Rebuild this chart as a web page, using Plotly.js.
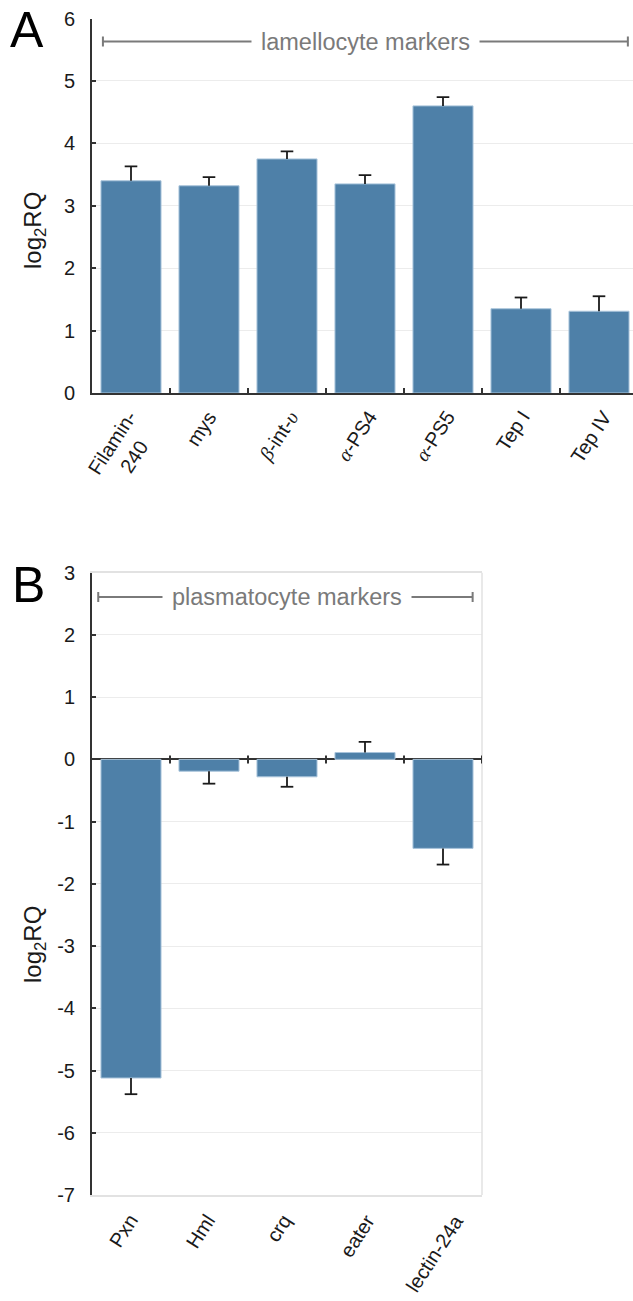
<!DOCTYPE html>
<html>
<head>
<meta charset="utf-8">
<script src="https://cdn.plot.ly/plotly-3.0.1.min.js"></script>
<style>html,body{margin:0;padding:0;background:#fff;}</style>
</head>
<body>
<div id="chart" style="width:633px;height:1301px;"></div>
<script>
// ---- Data ----
const categoriesA = ['Filamin-240', 'mys', 'β-int-υ', 'α-PS4', 'α-PS5', 'Tep I', 'Tep IV'];
const tickLabelsA = ['Filamin-<br>240', 'mys', 'β-int-υ', 'α-PS4', 'α-PS5', 'Tep I', 'Tep IV'];
const valuesA = [3.40, 3.32, 3.75, 3.35, 4.60, 1.35, 1.31];
const errorsA = [0.23, 0.14, 0.12, 0.14, 0.14, 0.18, 0.24];
const yTickValsA = [0, 1, 2, 3, 4, 5, 6];
const yTickTextA = ['0', '1', '2', '3', '4', '5', '6'];

const categoriesB = ['Pxn', 'Hml', 'crq', 'eater', 'lectin-24a'];
const tickLabelsB = ['Pxn', 'Hml', 'crq', 'eater', 'lectin-24a'];
const valuesB = [-5.12, -0.19, -0.28, 0.11, -1.43];
const errorsB = [0.26, 0.20, 0.16, 0.17, 0.26];
const yTickValsB = [-7, -6, -5, -4, -3, -2, -1, 0, 1, 2, 3];
const yTickTextB = ['-7', '-6', '-5', '-4', '-3', '-2', '-1', '0', '1', '2', '3'];

const bracketTextA = 'lamellocyte markers';
const bracketTextB = 'plasmatocyte markers';
const yTitle = 'log<sub>2</sub>RQ';

// ---- Styling helpers ----
const BAR = '#4e80a8';
const ERR = '#1a1a1a';
const FONT = '"Liberation Sans", Arial, sans-serif';
const greek = s => s.replace(/([α-ωΑ-Ω])/g, '<span style="font-family:\'Liberation Serif\',serif;font-style:italic">$1</span>');

const W = 633, H = 1301;
const px = v => v / W;
const py = v => 1 - v / H;

function stems(vals, e) {
  return {
    type: 'data', symmetric: false,
    array: vals.map((v, i) => v >= 0 ? e[i] : 0),
    arrayminus: vals.map((v, i) => v < 0 ? e[i] : 0),
    color: ERR, thickness: 1.8, width: 0
  };
}
function caps(cats, vals, e, xa, ya) {
  return {
    type: 'scatter', mode: 'markers', x: cats, y: vals.map((v, i) => v >= 0 ? v + e[i] : v - e[i]),
    xaxis: xa, yaxis: ya, hoverinfo: 'none',
    marker: {symbol: 'line-ew', size: 9, color: ERR, line: {color: ERR, width: 1.8}}
  };
}

const traceA = {
  type: 'bar', x: categoriesA, y: valuesA, xaxis: 'x', yaxis: 'y',
  marker: {color: BAR, line: {color: '#a9c4db', width: 1}},
  error_y: stems(valuesA, errorsA), hoverinfo: 'none'
};
const traceB = {
  type: 'bar', x: categoriesB, y: valuesB, xaxis: 'x2', yaxis: 'y2',
  marker: {color: BAR, line: {color: '#a9c4db', width: 1}},
  error_y: stems(valuesB, errorsB), hoverinfo: 'none'
};

const nA = categoriesA.length, nB = categoriesB.length;
const yTickFont = {family: FONT, size: 20, color: '#1a1a1a'};
const xLabFont = {family: FONT, size: 20, color: '#1a1a1a'};

const gray = '#7a7a7a';
function bracket(xref, yref, x0, x1, y) {
  return [
    {type: 'line', xref, yref, x0, x1, y0: y, y1: y, line: {color: gray, width: 2}},
    {type: 'line', xref, yref, x0, x1: x0, ysizemode: 'pixel', yanchor: y, y0: -5, y1: 5, line: {color: gray, width: 2}},
    {type: 'line', xref, yref, x0: x1, x1, ysizemode: 'pixel', yanchor: y, y0: -5, y1: 5, line: {color: gray, width: 2}}
  ];
}

const shapes = []
  .concat(bracket('x', 'y', -0.36, nA - 0.63, 5.63))
  .concat(bracket('x2', 'y2', -0.42, nB - 0.62, 2.61))
  .concat([{type: 'line', xref: 'x2 domain', yref: 'y2 domain', x0: 1, x1: 1, y0: 0, y1: 1, line: {color: '#e2e2e2', width: 1.5}}])
  .concat(categoriesB.map((c, i) => ({
    type: 'line', xref: 'x2', yref: 'y2', x0: i + 0.5, x1: i + 0.5,
    ysizemode: 'pixel', yanchor: 0, y0: -4, y1: 4, line: {color: '#333', width: 2}
  })));

// rotated category labels (as annotations, top-aligned under the axis)
function catLabels(cats, labels, xref, yTopPx) {
  return cats.map((c, i) => ({
    xref, yref: 'paper', x: c, y: py(yTopPx), text: greek(labels[i]),
    textangle: -57, showarrow: false, xanchor: 'center', yanchor: 'top', xshift: -8,
    align: 'center', font: xLabFont, borderpad: 0
  }));
}

const layout = {
  width: W, height: H,
  margin: {l: 0, r: 0, t: 0, b: 0},
  paper_bgcolor: '#fff', plot_bgcolor: '#fff',
  showlegend: false, bargap: 0.23,
  font: {family: FONT, color: '#1a1a1a'},
  xaxis: {
    domain: [px(92), 1], anchor: 'y',
    range: [-0.5, -0.5 + (W - 92) / 78],
    showticklabels: false,
    showline: true, linecolor: '#333', linewidth: 2,
    ticks: 'inside', tickson: 'boundaries', ticklen: 5, tickwidth: 2, tickcolor: '#333',
    showgrid: false, zeroline: false, fixedrange: true
  },
  yaxis: {
    domain: [py(393), py(18.5)], anchor: 'x',
    range: [0, 6], tickvals: yTickValsA, ticktext: yTickTextA, tickfont: yTickFont,
    showline: true, linecolor: '#333', linewidth: 2,
    ticks: 'inside', ticklen: 4, tickwidth: 2, tickcolor: '#333', ticklabelstandoff: 11,
    showgrid: true, gridcolor: '#ececec', gridwidth: 1, zeroline: false, fixedrange: true
  },
  xaxis2: {
    domain: [px(92), px(482)], anchor: 'y2',
    range: [-0.5, nB - 0.5],
    showticklabels: false,
    showline: true, mirror: true, linecolor: '#e2e2e2', linewidth: 1.5,
    ticks: '', showgrid: false, zeroline: false, fixedrange: true
  },
  yaxis2: {
    domain: [py(1195), py(572.7)], anchor: 'x2',
    range: [-7, 3], tickvals: yTickValsB, ticktext: yTickTextB, tickfont: yTickFont,
    showline: true, linecolor: '#333', linewidth: 2,
    ticks: 'inside', ticklen: 4, tickwidth: 2, tickcolor: '#333', ticklabelstandoff: 11,
    showgrid: true, gridcolor: '#ececec', gridwidth: 1,
    zeroline: true, zerolinecolor: '#333', zerolinewidth: 2, fixedrange: true
  },
  shapes: shapes,
  annotations: [
    {xref: 'x', yref: 'y', x: (nA - 1) / 2, y: 5.63, text: bracketTextA, showarrow: false,
     font: {family: FONT, size: 23.5, color: gray}, bgcolor: '#fff', borderpad: 9},
    {xref: 'x2', yref: 'y2', x: (nB - 1) / 2, y: 2.61, text: bracketTextB, showarrow: false,
     font: {family: FONT, size: 23.5, color: gray}, bgcolor: '#fff', borderpad: 9},
    {xref: 'paper', yref: 'paper', x: px(34), y: py(231), text: yTitle, textangle: -90, showarrow: false,
     xanchor: 'center', yanchor: 'middle', font: {family: FONT, size: 24, color: '#1a1a1a'}},
    {xref: 'paper', yref: 'paper', x: px(34), y: py(945), text: yTitle, textangle: -90, showarrow: false,
     xanchor: 'center', yanchor: 'middle', font: {family: FONT, size: 24, color: '#1a1a1a'}},
    {xref: 'paper', yref: 'paper', x: px(27), y: py(30), text: 'A', showarrow: false,
     xanchor: 'center', yanchor: 'middle', font: {family: FONT, size: 50, color: '#000'}},
    {xref: 'paper', yref: 'paper', x: px(28), y: py(585), text: 'B', showarrow: false,
     xanchor: 'center', yanchor: 'middle', font: {family: FONT, size: 50, color: '#000'}}
  ].concat(catLabels(categoriesA, tickLabelsA, 'x', 406))
   .concat(catLabels(categoriesB, tickLabelsB, 'x2', 1209))
};

Plotly.newPlot('chart', [traceA, traceB,
  caps(categoriesA, valuesA, errorsA, 'x', 'y'),
  caps(categoriesB, valuesB, errorsB, 'x2', 'y2')], layout, {staticPlot: true, displayModeBar: false});
</script>
</body>
</html>
